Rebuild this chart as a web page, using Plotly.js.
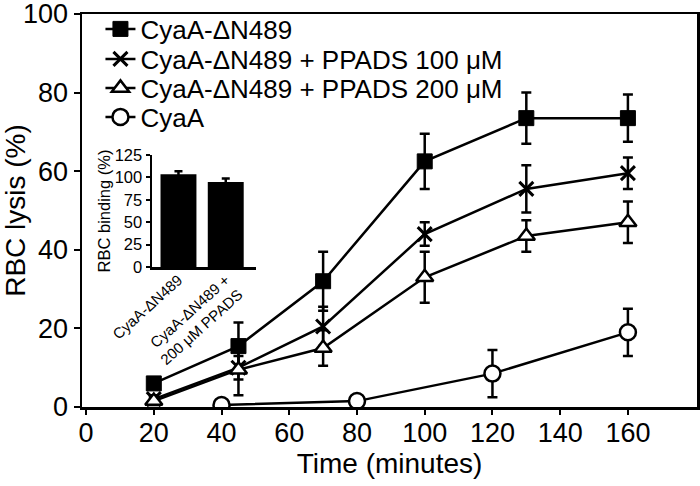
<!DOCTYPE html>
<html>
<head>
<meta charset="utf-8">
<script src="https://cdn.plot.ly/plotly-3.0.1.min.js"></script>
<style>html,body{margin:0;padding:0;background:#fff;}#chart{width:700px;height:486px;}</style>
</head>
<body>
<div id="chart"></div>
<script>
// Main chart data (RBC lysis %, time in minutes)
const seriesNames = ["CyaA-ΔN489", "CyaA-ΔN489 + PPADS 100 μM", "CyaA-ΔN489 + PPADS 200 μM", "CyaA"];
const timeA = [20, 45, 70, 100, 130, 160];
const lysisA = [6, 15.5, 32, 62.5, 73.5, 73.5];
const errA = [1, 6, 7.5, 7, 6.5, 6];
const timeB = [20, 45, 70, 100, 130, 160];
const lysisB = [2, 10, 20.5, 44, 55.5, 59.5];
const errB = [1, 3, 5, 3, 6, 4];
const timeC = [20, 45, 70, 100, 130, 160];
const lysisC = [1.5, 9.5, 15, 33, 43.5, 47];
const errC = [1, 6.5, 4.5, 6.5, 4, 5.3];
const timeD = [40, 80, 120, 160];
const lysisD = [0.5, 1.5, 8.5, 19];
const errD = [0.5, 0.5, 6, 6];
const xTicks = [0, 20, 40, 60, 80, 100, 120, 140, 160];
const yTicks = [0, 20, 40, 60, 80, 100];

// Inset data (RBC binding %)
const insetCats = ["CyaA-ΔN489", "CyaA-ΔN489 +<br>200 μM PPADS"];
const insetVals = [103.5, 95];
const insetErr = [3.5, 3.8];
const insetTicks = [0, 25, 50, 75, 100, 125];

const FONT = "Liberation Sans, Arial, Helvetica, sans-serif";
const BLK = "#000";

function errObj(arr) {
  return {type: "data", array: arr, visible: true, color: BLK, thickness: 2.5, width: 5};
}

const traces = [
  {x: timeA, y: lysisA, error_y: errObj(errA), name: seriesNames[0], type: "scatter", mode: "lines+markers",
   line: {color: BLK, width: 2.5}, legend: "legend",
   marker: {symbol: "square", size: 15, color: BLK, line: {color: BLK, width: 1}}},
  {x: timeB, y: lysisB, error_y: errObj(errB), name: seriesNames[1], type: "scatter", mode: "lines+markers",
   line: {color: BLK, width: 2.5}, legend: "legend2",
   marker: {symbol: "x-thin-open", size: 14, color: BLK, line: {color: BLK, width: 3}}},
  {x: timeC, y: lysisC, error_y: errObj(errC), name: seriesNames[2], type: "scatter", mode: "lines+markers",
   line: {color: BLK, width: 2.5}, legend: "legend3",
   marker: {symbol: "triangle-up", size: 15, color: "#fff", line: {color: BLK, width: 2.5}}},
  {x: timeD, y: lysisD, error_y: errObj(errD), name: seriesNames[3], type: "scatter", mode: "lines+markers",
   line: {color: BLK, width: 2.5}, legend: "legend4",
   marker: {symbol: "circle", size: 16, color: "#fff", line: {color: BLK, width: 2.5}}},
  {x: insetCats, y: insetVals, type: "bar", xaxis: "x2", yaxis: "y2", showlegend: false,
   width: 0.76, marker: {color: BLK, line: {width: 0}},
   error_y: {type: "data", array: insetErr, visible: true, color: BLK, thickness: 2.5, width: 4}}
];

// plot area: top 14, bottom 407
const TOP = 14, BOT = 407, H = BOT - TOP;
function leg(py) {
  return {x: 0.03, xanchor: "left", y: (BOT - py) / H, yanchor: "middle", bgcolor: "rgba(0,0,0,0)",
          borderwidth: 0, font: {family: FONT, size: 26, color: BLK}, itemwidth: 30};
}

const layout = {
  width: 700, height: 486,
  margin: {l: 82, r: 3, t: TOP, b: 486 - BOT},
  paper_bgcolor: "#fff", plot_bgcolor: "#fff",
  font: {family: FONT, color: BLK},
  showlegend: true,
  legend: leg(29),
  legend2: leg(59),
  legend3: leg(88),
  legend4: leg(117),
  xaxis: {
    range: [-1.2, 180.4], tickvals: xTicks, ticks: "outside", ticklen: 5, tickwidth: 2, tickcolor: BLK,
    showline: true, linewidth: 2.5, linecolor: BLK, mirror: true, showgrid: false, zeroline: false,
    tickfont: {family: FONT, size: 27, color: BLK}, ticklabelstandoff: -5,
    title: {text: "Time (minutes)", font: {family: FONT, size: 28, color: BLK}, standoff: 4}
  },
  yaxis: {
    range: [0, 100], tickvals: yTicks, ticks: "outside", ticklen: 6, tickwidth: 2, tickcolor: BLK,
    showline: true, linewidth: 2.5, linecolor: BLK, mirror: true, showgrid: false, zeroline: false,
    tickfont: {family: FONT, size: 27, color: BLK}, ticklabeloverflow: "allow",
    title: {text: "RBC lysis (%)", font: {family: FONT, size: 28, color: BLK}, standoff: 0}
  },
  xaxis2: {
    domain: [(152 - 82) / 615, (256 - 82) / 615], anchor: "y2", type: "category", range: [-0.56, 1.64],
    showline: true, linewidth: 2.5, linecolor: BLK, ticks: "", showgrid: false, zeroline: false,
    tickangle: -42, tickfont: {family: FONT, size: 15, color: BLK}, ticklabelstandoff: -4
  },
  yaxis2: {
    domain: [(BOT - 267) / H, (BOT - 155) / H], anchor: "x2", range: [0, 125], tickvals: insetTicks,
    ticks: "outside", ticklen: 4, tickwidth: 2, tickcolor: BLK,
    showline: true, linewidth: 2.5, linecolor: BLK, showgrid: false, zeroline: false,
    tickfont: {family: FONT, size: 16.5, color: BLK}, ticklabeloverflow: "allow",
    title: {text: "RBC binding (%)", font: {family: FONT, size: 16.5, color: BLK}, standoff: 0}
  }
};

Plotly.newPlot("chart", traces, layout, {displayModeBar: false, staticPlot: true});
</script>
</body>
</html>
